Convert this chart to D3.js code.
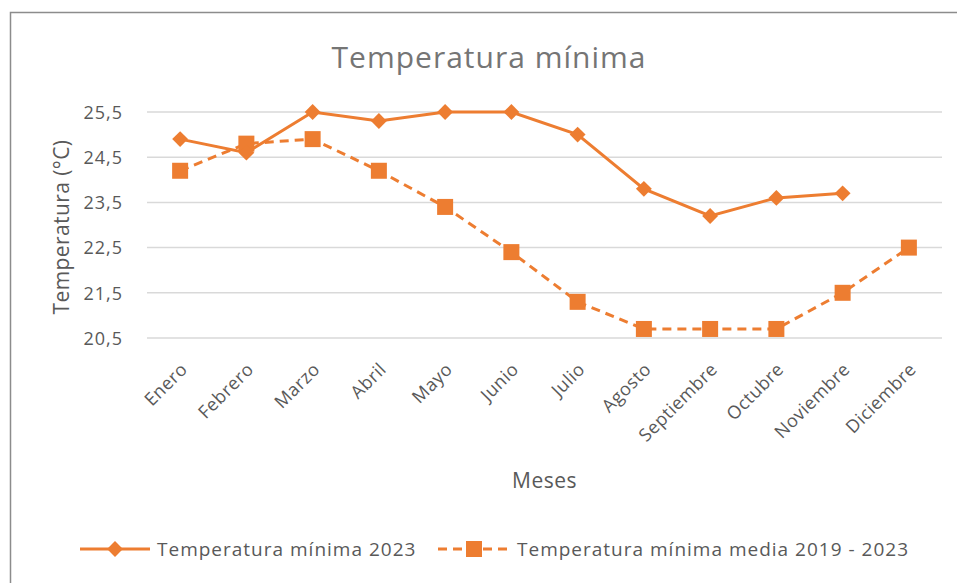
<!DOCTYPE html>
<html>
<head>
<meta charset="utf-8">
<script src="https://cdn.jsdelivr.net/npm/d3@7"></script>
<style>
  body { margin: 0; background: #fff; }
  #chart { width: 957px; height: 583px; }
  text { font-family: "Open Sans", "Noto Sans", sans-serif; }
</style>
</head>
<body>
<div id="chart"></div>
<script>
// data
var meses = ["Enero", "Febrero", "Marzo", "Abril", "Mayo", "Junio", "Julio",
             "Agosto", "Septiembre", "Octubre", "Noviembre", "Diciembre"];
var minima2023 = [24.9, 24.6, 25.5, 25.3, 25.5, 25.5, 25.0, 23.8, 23.2, 23.6, 23.7, null];
var mediaMinima = [24.2, 24.8, 24.9, 24.2, 23.4, 22.4, 21.3, 20.7, 20.7, 20.7, 21.5, 22.5];
var yTicks = [20.5, 21.5, 22.5, 23.5, 24.5, 25.5];
var serieNames = ["Temperatura mínima 2023", "Temperatura mínima media 2019 - 2023"];

var orange = "#ED7D31";
var width = 957, height = 583;
var margin = { left: 147, right: 15, top: 112, bottom: 245 };

var svg = d3.select("#chart").append("svg")
       .attr("width", width)
       .attr("height", height);

// outer frame (only left and top edges are visible in the reference)
svg.append("rect")
       .attr("x", 10.5).attr("y", 12.5)
       .attr("width", 960).attr("height", 600)
       .attr("fill", "none")
       .attr("stroke", "#8c8c8c")
       .attr("stroke-width", 1.5);

var x = d3.scaleBand().domain(meses).range([margin.left, width - margin.right]);
var y = d3.scaleLinear().domain([20.5, 25.5]).range([height - margin.bottom, margin.top]);

// gridlines
svg.append("g")
       .selectAll("line")
       .data(yTicks)
       .enter()
       .append("line")
       .attr("x1", margin.left).attr("x2", width - margin.right)
       .attr("y1", d => y(d)).attr("y2", d => y(d))
       .attr("stroke", "#d9d9d9")
       .attr("stroke-width", 1.5);

// y axis labels
var yAxis = svg.append("g")
       .attr("transform", "translate(" + (margin.left - 21) + ",0)")
       .call(d3.axisLeft(y).tickValues(yTicks).tickSize(0)
              .tickFormat(d => d3.format(".1f")(d).replace(".", ",")));
yAxis.select(".domain").remove();
yAxis.selectAll("text")
       .attr("fill", "#595959")
       .style("font-size", "18px")
       .style("letter-spacing", "1px")
       .attr("dy", "0.35em");

// x axis labels
var xAxis = svg.append("g")
       .attr("transform", "translate(0," + (height - margin.bottom) + ")")
       .call(d3.axisBottom(x).tickSize(0));
xAxis.select(".domain").remove();
xAxis.selectAll("text")
       .attr("fill", "#595959")
       .style("font-size", "18px")
       .style("letter-spacing", "0.5px")
       .attr("text-anchor", "end")
       .attr("transform", "translate(4,28) rotate(-45)")
       .attr("dy", "0.35em")
       .attr("y", 0);

// titles
svg.append("text")
       .attr("x", 489).attr("y", 68)
       .attr("text-anchor", "middle")
       .attr("fill", "#757575")
       .style("font-size", "30px")
       .style("letter-spacing", "1px")
       .text("Temperatura  mínima");

svg.append("text")
       .attr("x", (margin.left + width - margin.right) / 2).attr("y", 488)
       .attr("text-anchor", "middle")
       .attr("fill", "#595959")
       .style("font-size", "21px")
       .style("letter-spacing", "0.5px")
       .text("Meses");

svg.append("text")
       .attr("transform", "translate(69," + ((y(20.5) + y(25.5)) / 2 + 2) + ") rotate(-90)")
       .attr("text-anchor", "middle")
       .attr("fill", "#595959")
       .style("font-size", "21px")
       .style("letter-spacing", "0.4px")
       .text("Temperatura (°C)");

var cx = d => x(d) + x.bandwidth() / 2;

var lineGen = d3.line()
       .defined(d => d.v != null)
       .x(d => cx(d.m))
       .y(d => y(d.v));

var s1 = meses.map((m, i) => ({ m: m, v: minima2023[i] }));
var s2 = meses.map((m, i) => ({ m: m, v: mediaMinima[i] }));

// media series (dashed, squares)
svg.append("path")
       .datum(s2)
       .attr("d", lineGen)
       .attr("fill", "none")
       .attr("stroke", orange)
       .attr("stroke-width", 3)
       .attr("stroke-dasharray", "9,6");

// 2023 series (solid, diamonds)
svg.append("path")
       .datum(s1)
       .attr("d", lineGen)
       .attr("fill", "none")
       .attr("stroke", orange)
       .attr("stroke-width", 3);

svg.append("g")
       .selectAll("rect")
       .data(s2.filter(d => d.v != null))
       .enter()
       .append("rect")
       .attr("x", d => cx(d.m) - 8)
       .attr("y", d => y(d.v) - 8)
       .attr("width", 16).attr("height", 16)
       .attr("fill", orange);

var diamond = d3.symbol().type(d3.symbolDiamond2).size(160);
svg.append("g")
       .selectAll("path")
       .data(s1.filter(d => d.v != null))
       .enter()
       .append("path")
       .attr("d", diamond)
       .attr("transform", d => "translate(" + cx(d.m) + "," + y(d.v) + ")")
       .attr("fill", orange);

// legend
var ly = 549;
var leg = svg.append("g");
leg.append("line")
       .attr("x1", 80).attr("x2", 150).attr("y1", ly).attr("y2", ly)
       .attr("stroke", orange).attr("stroke-width", 3);
leg.append("path")
       .attr("d", diamond)
       .attr("transform", "translate(115," + ly + ")")
       .attr("fill", orange);
leg.append("text")
       .attr("x", 157).attr("y", ly).attr("dy", "0.35em")
       .attr("fill", "#595959")
       .style("font-size", "19px")
       .style("letter-spacing", "1px")
       .text(serieNames[0]);

leg.append("line")
       .attr("x1", 438).attr("x2", 510).attr("y1", ly).attr("y2", ly)
       .attr("stroke", orange).attr("stroke-width", 3)
       .attr("stroke-dasharray", "9,6");
leg.append("rect")
       .attr("x", 466).attr("y", ly - 8)
       .attr("width", 16).attr("height", 16)
       .attr("fill", orange);
leg.append("text")
       .attr("x", 517).attr("y", ly).attr("dy", "0.35em")
       .attr("fill", "#595959")
       .style("font-size", "19px")
       .style("letter-spacing", "1px")
       .text(serieNames[1]);
</script>
</body>
</html>
